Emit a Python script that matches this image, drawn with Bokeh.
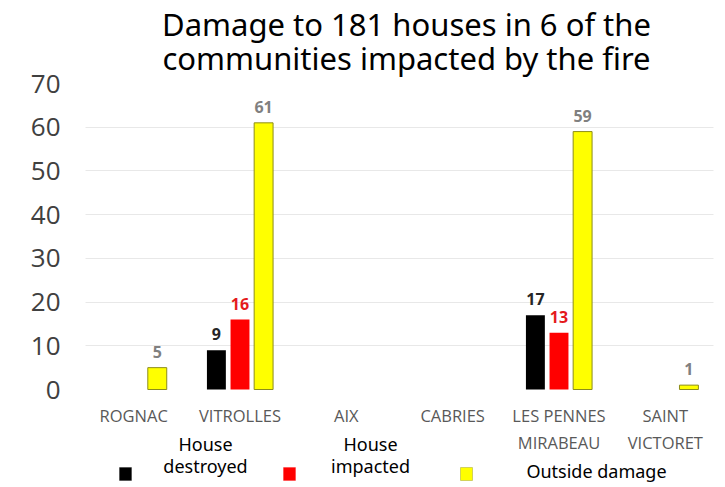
from bokeh.plotting import figure
from bokeh.models import (ColumnDataSource, Range1d, Label, BoxAnnotation, FixedTicker,
                          LinearAxis, Grid)
from bokeh.transform import dodge
from bokeh.core.properties import value
from bokeh.embed import file_html
from bokeh.resources import INLINE

# ---- data ----
categories = ["ROGNAC", "VITROLLES", "AIX", "CABRIES", "LES PENNES\nMIRABEAU", "SAINT\nVICTORET"]
destroyed = [0, 9, 0, 0, 17, 0]
impacted = [0, 16, 0, 0, 13, 0]
outside = [5, 61, 0, 0, 59, 1]
y_ticks = [0, 10, 20, 30, 40, 50, 60, 70]
grid_ticks = [10, 20, 30, 40, 50, 60]
series_names = ["House\ndestroyed", "House\nimpacted", "Outside damage"]
title_lines = ["Damage to 181 houses in 6 of the", "communities impacted by the fire"]

OUTLINE = "#8c8c1a"
idx = list(range(len(categories)))
src = ColumnDataSource(dict(
    x=idx,
    destroyed=destroyed, impacted=impacted, outside=outside,
    ld=[str(v) if v else "" for v in destroyed],
    li=[str(v) if v else "" for v in impacted],
    lo=[str(v) if v else "" for v in outside],
    oline=[OUTLINE if v else None for v in outside],
))

# ---- layout geometry (canvas pixels) ----
W, H = 720, 486
PL, PR = 80, 718      # plot area left / right
PT, PB = 83, 389      # y=70 / y=0
GL, GR = 85, 713      # grid line extent
ymax = y_ticks[-1]
n = len(categories)
xs = (PR - PL) / n                # px per category
ys = (PB - PT) / ymax             # px per unit
x_start = -0.5 - PL / xs
x_end = n - 0.5 + (W - PR) / xs
y_end = ymax + PT / ys
y_start = -(H - PB) / ys

def px_to_x(px):
    return -0.5 + (px - PL) / xs

p = figure(width=W, height=H, output_backend="svg", toolbar_location=None,
           title=None, x_axis_location=None, y_axis_location=None,
           x_range=Range1d(x_start, x_end), y_range=Range1d(y_start, y_end),
           min_border=0)
p.outline_line_color = None
p.background_fill_color = "white"
p.border_fill_color = "white"

# remove any default grids, add our own horizontal grid
p.center = [r for r in p.center if not isinstance(r, Grid)]
p.renderers = [r for r in p.renderers if not isinstance(r, Grid)]
grid = Grid(dimension=1, ticker=FixedTicker(ticks=grid_ticks), grid_line_color="#e8e8e8",
            grid_line_width=1, cross_bounds=(px_to_x(GL), px_to_x(GR)))
p.add_layout(grid)

bw = 0.178
off = 0.222
p.vbar(x=dodge("x", -off), top="destroyed", width=bw, source=src,
       fill_color="black", line_color=None)
p.vbar(x=dodge("x", 0), top="impacted", width=bw, source=src,
       fill_color="#ff0000", line_color=None)
p.vbar(x=dodge("x", off), top="outside", width=bw, source=src,
       fill_color="#ffff00", line_color="oline", line_width=1)

lbl = dict(text_align="center", text_baseline="middle", y_offset=-16,
           text_font=value("Open Sans"), text_font_size="16px", text_font_style="bold", source=src)
p.text(x=dodge("x", -off), y="destroyed", text="ld", text_color="#262626", **lbl)
p.text(x=dodge("x", 0), y="impacted", text="li", text_color="#e41a1c", **lbl)
p.text(x=dodge("x", off), y="outside", text="lo", text_color="#808080", **lbl)

# axes (fixed inside the frame)
yaxis = LinearAxis(fixed_location=-0.5, ticker=FixedTicker(ticks=y_ticks))
yaxis.axis_line_color = None
yaxis.major_tick_line_color = None
yaxis.minor_tick_line_color = None
yaxis.major_label_text_font = "Open Sans"
yaxis.major_label_text_font_size = "26px"
yaxis.major_label_text_color = "#404040"
yaxis.major_label_standoff = 14
p.add_layout(yaxis, "left")

xaxis = LinearAxis(fixed_location=0, ticker=FixedTicker(ticks=idx),
                   major_label_overrides={i: c for i, c in zip(idx, categories)})
xaxis.axis_line_color = None
xaxis.major_tick_line_color = None
xaxis.minor_tick_line_color = None
xaxis.major_label_text_font = "Open Sans"
xaxis.major_label_text_font_size = "16.5px"
xaxis.major_label_text_color = "#595959"
xaxis.major_label_text_line_height = 1.2
xaxis.major_label_standoff = 8
p.add_layout(xaxis, "below")

# annotations: screen units from frame bottom-left (frame == canvas)
def fy(y):
    return H - y

for line, mid in zip(title_lines, [23, 57]):
    p.add_layout(Label(x=406, y=fy(mid), x_units="screen", y_units="screen", text=line,
                       text_align="center", text_baseline="middle", text_font="Noto Sans",
                       text_font_size="31px", text_color="black"))

fontl = dict(x_units="screen", y_units="screen", text_font="Noto Sans",
             text_font_size="18px", text_color="black", text_align="center",
             text_baseline="middle")
n0 = series_names[0].split("\n")
n1 = series_names[1].split("\n")
p.add_layout(Label(x=205, y=fy(443), text=n0[0], **fontl))
p.add_layout(Label(x=205, y=fy(465), text=n0[1], **fontl))
p.add_layout(Label(x=370, y=fy(443), text=n1[0], **fontl))
p.add_layout(Label(x=370, y=fy(465), text=n1[1], **fontl))
p.add_layout(Label(x=596, y=fy(470), text=series_names[2], **fontl))

for (l, r), col, lc in [((119, 131), "black", "black"), ((283, 295), "#ff0000", "#ff0000"),
                        ((460, 472), "#ffff00", "#6b6b00")]:
    p.add_layout(BoxAnnotation(left=l, right=r, top=fy(467), bottom=fy(480),
                               left_units="screen", right_units="screen",
                               top_units="screen", bottom_units="screen",
                               fill_color=col, fill_alpha=1, line_color=lc, line_width=1,
                               level="overlay"))

open("out.html", "w").write(file_html(p, INLINE))
